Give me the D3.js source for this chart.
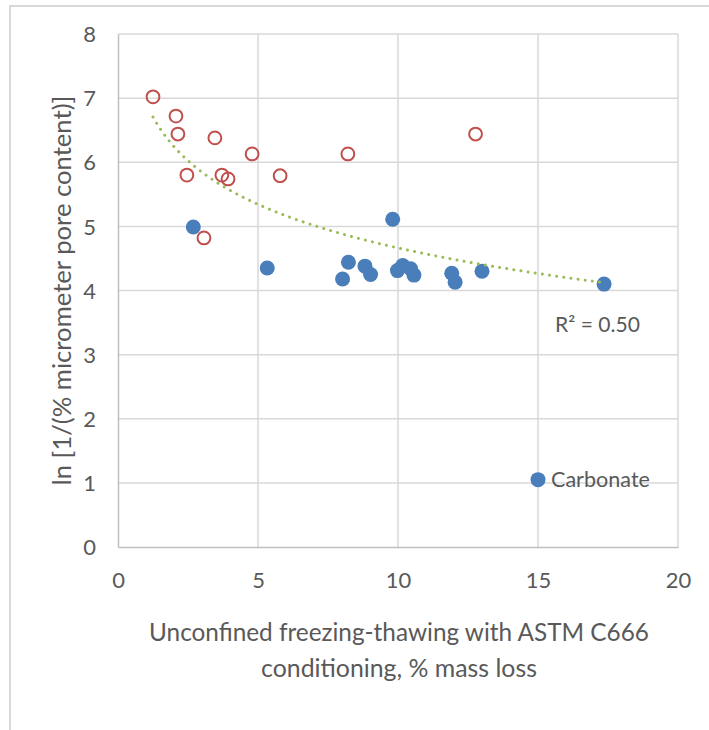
<!DOCTYPE html>
<html>
<head>
<meta charset="utf-8">
<script src="https://cdn.jsdelivr.net/npm/d3@7"></script>
<style>
  html, body { margin: 0; padding: 0; background: #fff; }
  svg { display: block; font-family: Lato, "Open Sans", sans-serif; }
</style>
</head>
<body>
<svg id="chart" width="709" height="730"></svg>
<script>
// ---- data ----
const redX = [1.25, 2.07, 2.14, 3.46, 4.79, 8.21, 2.46, 3.71, 3.93, 5.79, 3.07, 12.77];
const redY = [7.02, 6.72, 6.44, 6.38, 6.13, 6.13, 5.80, 5.80, 5.74, 5.79, 4.82, 6.44];
const blueX = [2.69, 5.33, 8.02, 8.23, 8.82, 9.02, 9.81, 9.98, 10.17, 10.45, 10.57, 11.92, 12.04, 13.00, 17.36];
const blueY = [4.99, 4.35, 4.18, 4.44, 4.38, 4.25, 5.11, 4.31, 4.39, 4.34, 4.24, 4.27, 4.13, 4.30, 4.10];
const labelPointX = [15.0];
const labelPointY = [1.05];
const labelPointText = ["Carbonate"];
const xTicks = [0, 5, 10, 15, 20];
const yTicks = [0, 1, 2, 3, 4, 5, 6, 7, 8];
const xTitleLines = ["Unconfined freezing-thawing with ASTM C666", "conditioning, % mass loss"];
const yTitle = "ln [1/(% micrometer pore content)]";

(function () {
const svg = d3.select("#chart");
const mLeft = 118, mRight = 678, mTop = 34, mBottom = 547;
const x = d3.scaleLinear().domain([0, 20]).range([mLeft, mRight]);
const y = d3.scaleLinear().domain([0, 8]).range([mBottom, mTop]);

const gridColor = "#d9d9d9";
const textColor = "#595959";

// size a text node so that its width matches the reference width
function fit(sel, width) {
  sel.attr("font-size", 20);
  const w = sel.node().getComputedTextLength();
  const fs = 20 * width / w;
  sel.attr("font-size", fs);
  return fs;
}

// chart frame
svg.append("path")
  .attr("d", "M10,731 L10,6 L710,6")
  .attr("fill", "none").attr("stroke", gridColor).attr("stroke-width", 2);

// gridlines
svg.append("g").selectAll("line").data(yTicks.filter(d => d > 0)).join("line")
  .attr("x1", mLeft).attr("x2", mRight)
  .attr("y1", d => y(d)).attr("y2", d => y(d))
  .attr("stroke", gridColor).attr("stroke-width", 1.5);
svg.append("g").selectAll("line").data(xTicks.filter(d => d > 0)).join("line")
  .attr("x1", d => x(d)).attr("x2", d => x(d))
  .attr("y1", mTop).attr("y2", mBottom)
  .attr("stroke", gridColor).attr("stroke-width", 1.5);

// tick label font size fitted on "20"
const probe = svg.append("text").text("20");
const tickFs = fit(probe, 25.5);
probe.remove();

// axes
const xAxis = svg.append("g").attr("transform", `translate(0,${mBottom})`)
  .call(d3.axisBottom(x).tickValues(xTicks).tickSize(0));
const yAxis = svg.append("g").attr("transform", `translate(${mLeft},0)`)
  .call(d3.axisLeft(y).tickValues(yTicks).tickSize(0));
[xAxis, yAxis].forEach(g => {
  g.select(".domain").attr("stroke", "#bfbfbf").attr("stroke-width", 1.5);
  g.selectAll("text").attr("fill", textColor).attr("font-size", tickFs)
    .attr("font-family", "Lato, sans-serif");
});
xAxis.selectAll("text").attr("dy", "0.35em").attr("y", 33);
yAxis.selectAll("text").attr("dy", "0.35em").attr("x", -22);

// axis titles
xTitleLines.forEach((t, i) => {
  const tx = svg.append("text")
    .attr("text-anchor", "middle").attr("fill", textColor)
    .attr("x", 399).text(t);
  const fs = fit(tx, i === 0 ? 500 : 276);
  tx.attr("y", (i === 0 ? 632 : 668) + 0.35 * fs);
});
const yt = svg.append("text")
  .attr("text-anchor", "middle").attr("fill", textColor).text(yTitle);
const yfs = fit(yt, 390);
yt.attr("transform", `translate(${62 + 0.35 * yfs},${(mTop + mBottom) / 2}) rotate(-90)`);

// ---- logarithmic trendline fit over all plotted series ----
const allX = redX.concat(blueX), allY = redY.concat(blueY);
const L = allX.map(Math.log);
const mL = d3.mean(L), mY = d3.mean(allY);
let sxy = 0, sxx = 0, syy = 0;
L.forEach((l, i) => { sxy += (l - mL) * (allY[i] - mY); sxx += (l - mL) ** 2; syy += (allY[i] - mY) ** 2; });
const b = sxy / sxx, a = mY - b * mL;
const r2 = (sxy * sxy) / (sxx * syy);
const xmin = d3.min(allX), xmax = d3.max(allX);
const trendPts = d3.range(0, 101).map(k => {
  const xv = xmin + (xmax - xmin) * k / 100;
  return [xv, a + b * Math.log(xv)];
});

// blue points
svg.append("g").selectAll("circle").data(blueX.map((v, i) => [v, blueY[i]])).join("circle")
  .attr("cx", d => x(d[0])).attr("cy", d => y(d[1])).attr("r", 7.5)
  .attr("fill", "#4a7ebb");

// red open circles
svg.append("g").selectAll("circle").data(redX.map((v, i) => [v, redY[i]])).join("circle")
  .attr("cx", d => x(d[0])).attr("cy", d => y(d[1])).attr("r", 6.4)
  .attr("fill", "none").attr("stroke", "#c0504d").attr("stroke-width", 2);

// trendline
svg.append("path")
  .attr("d", d3.line().x(d => x(d[0])).y(d => y(d[1]))(trendPts))
  .attr("fill", "none").attr("stroke", "#9bbb59").attr("stroke-width", 3)
  .attr("stroke-linecap", "round").attr("stroke-dasharray", "0.01 7.2");

// R² label
const rt = svg.append("text").attr("x", 555).attr("fill", textColor)
  .text("R² = " + r2.toFixed(2));
const rfs = fit(rt, 85);
rt.attr("y", 325 + 0.35 * rfs);

// labelled point
svg.append("g").selectAll("circle").data(labelPointX.map((v, i) => [v, labelPointY[i]])).join("circle")
  .attr("cx", d => x(d[0])).attr("cy", d => y(d[1])).attr("r", 7.5).attr("fill", "#4a7ebb");
svg.append("g").selectAll("text").data(labelPointX.map((v, i) => [v, labelPointY[i], labelPointText[i]])).join("text")
  .attr("x", d => x(d[0]) + 13).attr("y", d => y(d[1])).attr("dy", "0.35em")
  .attr("fill", textColor).text(d => d[2])
  .each(function () { fit(d3.select(this), 99); });
})();
</script>
</body>
</html>
